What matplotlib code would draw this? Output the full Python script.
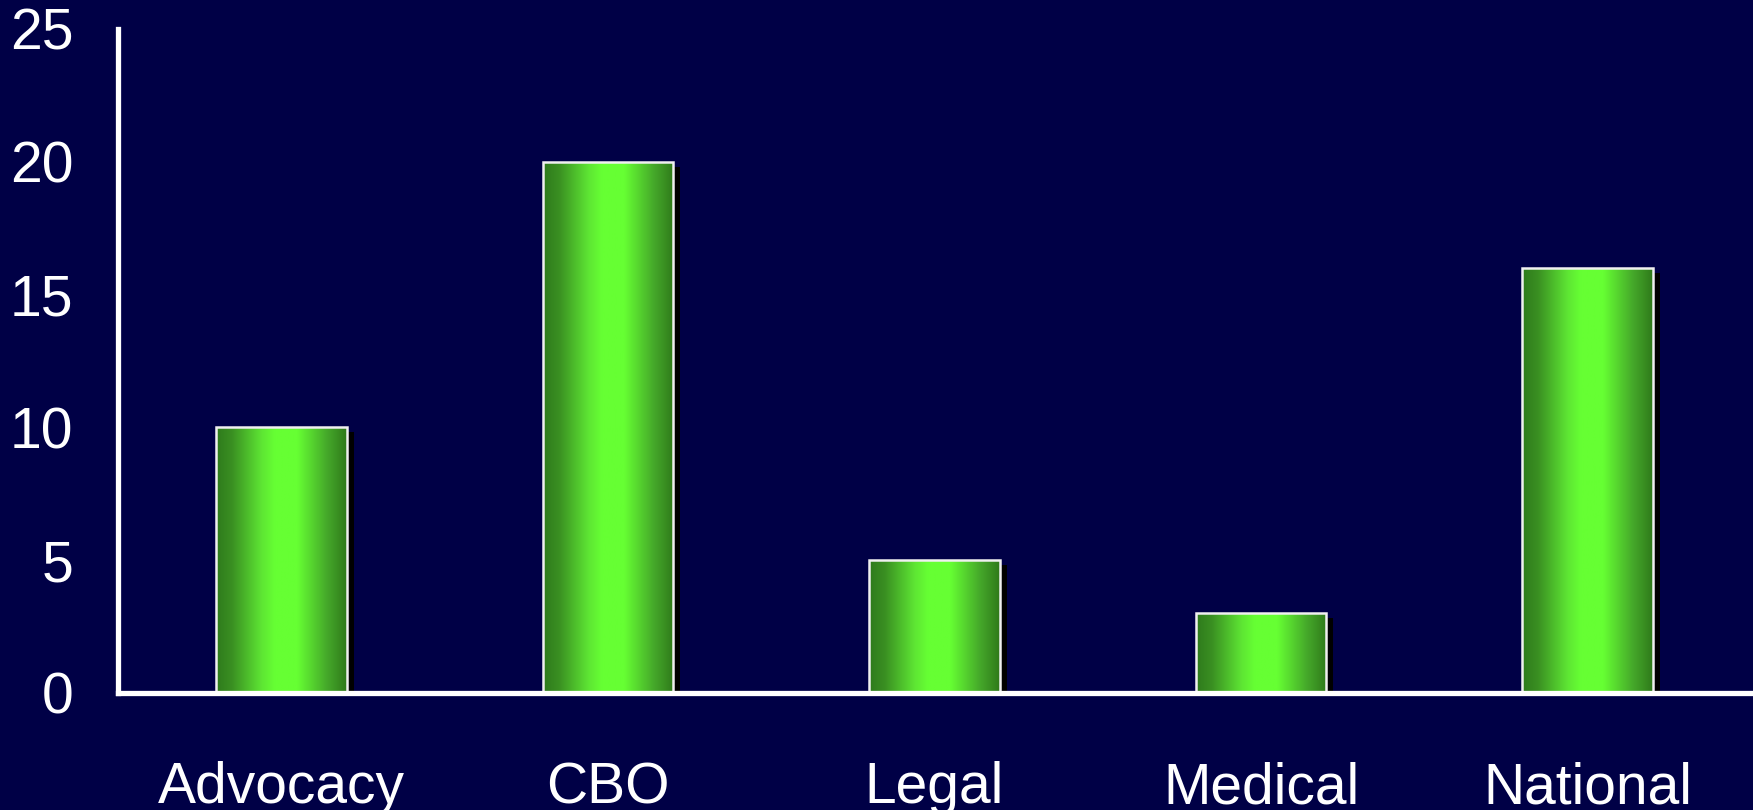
import numpy as np
import matplotlib
matplotlib.use("Agg")
import matplotlib.pyplot as plt
from matplotlib.colors import LinearSegmentedColormap
from matplotlib import transforms

# 数据
categories = ["Advocacy", "CBO", "Legal", "Medical", "National"]
values = [10, 20, 5, 3, 16]
y_ticks = [0, 5, 10, 15, 20, 25]

BG = "#000046"
bar_cmap = LinearSegmentedColormap.from_list(
    "bar_green",
    [(0.0, "#2e7a1c"), (0.12, "#3a8f22"), (0.35, "#5ee634"),
     (0.45, "#66ff33"), (0.62, "#66ff33"), (0.85, "#45a82a"), (1.0, "#2f7a1a")],
)

plt.rcParams["font.family"] = ["Liberation Sans", "DejaVu Sans"]

fig = plt.figure(figsize=(17.53, 8.10), dpi=100, facecolor=BG)
ax = fig.add_axes([118 / 1753, 1 - 693 / 810, (1751 - 118) / 1753, (693 - 29) / 810])
ax.set_facecolor(BG)

x = np.arange(len(categories))
width = 0.4

# 阴影（向右下偏移）
shadow_tr = ax.transData + transforms.ScaledTranslation(7 / 100, -5 / 100, fig.dpi_scale_trans)
ax.bar(x, values, width=width, color="black", linewidth=0, transform=shadow_tr, zorder=1)

# 渐变柱
bars = ax.bar(x, values, width=width, color="none", edgecolor="#f0f0f0", linewidth=1.8, zorder=3)
grad = np.linspace(0, 1, 256).reshape(1, -1)
for b in bars:
    bx, by = b.get_x(), b.get_y()
    im = ax.imshow(grad, cmap=bar_cmap, aspect="auto", zorder=2,
                   extent=[bx, bx + b.get_width(), by, by + b.get_height()])
    im.set_clip_path(b)

ax.set_xlim(-0.5, len(categories) - 0.5)
ax.set_ylim(0, 25)
ax.set_xticks(x)
ax.set_xticklabels(categories)
ax.set_yticks(y_ticks)

for s in ["top", "right"]:
    ax.spines[s].set_visible(False)
for s in ["left", "bottom"]:
    ax.spines[s].set_color("white")
    ax.spines[s].set_linewidth(3.8)
    ax.spines[s].set_zorder(5)

ax.tick_params(axis="both", length=0, colors="white", labelsize=41)
ax.tick_params(axis="y", pad=32)
ax.tick_params(axis="x", pad=49)

fig.savefig("out.png", dpi=100, facecolor=BG)
